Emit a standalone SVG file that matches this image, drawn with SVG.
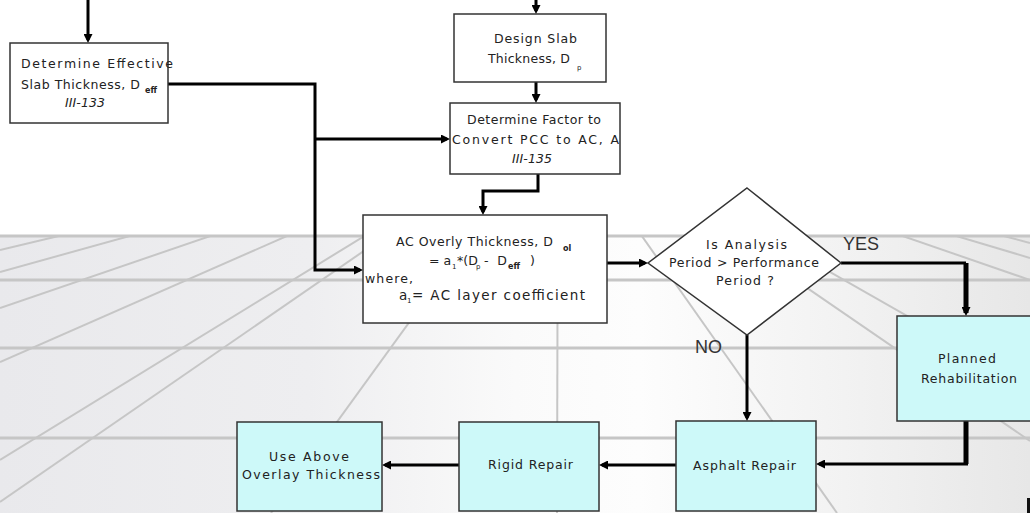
<svg xmlns="http://www.w3.org/2000/svg" width="1030" height="513" viewBox="0 0 1030 513">
  <style>
    .box { stroke: #333; stroke-width: 1.5; }
    .plain { fill: #ffffff; }
    .cyan { fill: #cdf9f9; }
    .t { font-family: "DejaVu Sans", "Liberation Sans", Arial, sans-serif; font-size: 12.5px; fill: #222; }
    .big { font-size: 13.5px; }
    .sub { font-size: 8px; font-weight: bold; }
    .tiny { font-size: 7px; }
    .it { font-style: italic; }
    .lbl { font-family: "Liberation Sans", Arial, sans-serif; font-size: 18px; fill: #333; }
    .con { fill: none; stroke: #000; stroke-width: 3; }
    .thick { stroke-width: 5; }
    .grid { stroke: #c6c6c6; stroke-width: 2; fill: none; }
    .hline { stroke: #c6c6c6; stroke-width: 3; }
  </style>
  <defs>
    <linearGradient id="floor" x1="0" y1="0" x2="1" y2="0">
      <stop offset="0" stop-color="#e9e9ec"/>
      <stop offset="0.3" stop-color="#eeeef0"/>
      <stop offset="0.5" stop-color="#fafafa"/>
      <stop offset="0.62" stop-color="#fdfdfd"/>
      <stop offset="0.82" stop-color="#f2f2f2"/>
      <stop offset="1" stop-color="#e7e7e7"/>
    </linearGradient>
    <clipPath id="floorClip">
      <rect x="0" y="236" width="1030" height="277"/>
    </clipPath>
    <marker id="arrow" markerUnits="userSpaceOnUse" markerWidth="9" markerHeight="9" refX="6" refY="4.5" orient="auto">
      <path d="M0,0 L9,4.5 L0,9 z" fill="#000"/>
    </marker>
  </defs>

  <!-- background: white wall and perspective floor grid -->
  <rect x="0" y="0" width="1030" height="513" fill="#ffffff"/>
  <g id="floor-grid">
    <rect x="0" y="236" width="1030" height="277" fill="url(#floor)"/>
    <g clip-path="url(#floorClip)" class="grid">
      <path d="M558,117 L0,250"/>
      <path d="M558,117 L0,272"/>
      <path d="M558,117 L0,308"/>
      <path d="M558,117 L0,362"/>
      <path d="M558,117 L0,460"/>
      <path d="M558,117 L0,502"/>
      <path d="M558,117 L271,513"/>
      <path d="M558,117 L557,513"/>
      <path d="M558,117 L837,513"/>
      <path d="M558,117 L1030,441"/>
      <path d="M558,117 L1030,386"/>
      <path d="M558,117 L1030,280"/>
      <path d="M558,117 L1030,258"/>
      <path d="M558,117 L1030,243"/>
    </g>
    <line class="hline" x1="0" y1="236" x2="1030" y2="236"/>
    <line class="hline" x1="0" y1="280" x2="1030" y2="280"/>
    <line class="hline" x1="0" y1="348" x2="1030" y2="348"/>
    <line class="hline" x1="0" y1="438" x2="1030" y2="438"/>
  </g>

  <!-- connectors -->
  <g id="connectors">
    <path class="con" d="M88,0 V40" marker-end="url(#arrow)"/>
    <path class="con" d="M536,0 V11" marker-end="url(#arrow)"/>
    <path class="con" d="M168,84 H315 V270 H360" marker-end="url(#arrow)"/>
    <path class="con" d="M315,139 H447" marker-end="url(#arrow)"/>
    <path class="con" d="M536,82 V100" marker-end="url(#arrow)"/>
    <path class="con" d="M538,174 V191 H483 V212" marker-end="url(#arrow)"/>
    <path class="con" d="M607,263 H645" marker-end="url(#arrow)"/>
    <path class="con" d="M841,263 H966"/>
    <path class="con thick" d="M966,263 V313" marker-end="url(#arrow)"/>
    <path class="con" d="M747,335 V418" marker-end="url(#arrow)"/>
    <path class="con thick" d="M966,421 V464"/>
    <path class="con" d="M968,464 H819" marker-end="url(#arrow)"/>
    <path class="con" d="M676,465 H602" marker-end="url(#arrow)"/>
    <path class="con" d="M459,465 H385" marker-end="url(#arrow)"/>
  </g>

  <!-- Determine Effective Slab Thickness -->
  <g id="node-effective">
    <rect class="box plain" x="10" y="43" width="158" height="80"/>
    <text class="t" x="21" y="68" textLength="152" lengthAdjust="spacing">Determine Effective</text>
    <text class="t" x="21" y="89" textLength="119" lengthAdjust="spacing">Slab Thickness, D</text>
    <text class="t sub" x="145" y="93">eff</text>
    <text class="t it" x="65" y="107" textLength="40" lengthAdjust="spacing">III-133</text>
  </g>

  <!-- Design Slab Thickness -->
  <g id="node-design">
    <rect class="box plain" x="454" y="14" width="152" height="68"/>
    <text class="t" x="494" y="43" textLength="83" lengthAdjust="spacing">Design Slab</text>
    <text class="t" x="488" y="63" textLength="82" lengthAdjust="spacing">Thickness, D</text>
    <text class="t tiny" x="577" y="70">p</text>
  </g>

  <!-- Determine Factor -->
  <g id="node-factor">
    <rect class="box plain" x="450" y="103" width="170" height="71"/>
    <text class="t" x="467" y="124" textLength="134" lengthAdjust="spacing">Determine Factor to</text>
    <text class="t" x="452" y="144" textLength="167" lengthAdjust="spacing">Convert PCC to AC, A</text>
    <text class="t it" x="512" y="163" textLength="40" lengthAdjust="spacing">III-135</text>
  </g>

  <!-- AC Overlay Thickness -->
  <g id="node-overlay">
    <rect class="box plain" x="363" y="215" width="244" height="108"/>
    <text class="t" x="396" y="246" textLength="157" lengthAdjust="spacing">AC Overly Thickness, D</text>
    <text class="t sub" x="563" y="251" font-weight="normal">ol</text>
    <text class="t" x="429" y="265">= a</text>
    <text class="t tiny" x="452" y="269">1</text>
    <text class="t" x="457" y="265">*(D</text>
    <text class="t tiny" x="476" y="269">p</text>
    <text class="t" x="484" y="265" textLength="23" lengthAdjust="spacing">- D</text>
    <text class="t sub" x="508" y="269">eff</text>
    <text class="t" x="530" y="265">)</text>
    <text class="t" x="365" y="283" textLength="48" lengthAdjust="spacing">where,</text>
    <text class="t big" x="399" y="300">a</text>
    <text class="t tiny" x="407" y="303">1</text>
    <text class="t big" x="412" y="300" textLength="173" lengthAdjust="spacing">= AC layer coefficient</text>
  </g>

  <!-- Decision -->
  <g id="node-decision">
    <polygon class="box plain" points="747,188 841,263 747,335 648,263"/>
    <text class="t" x="706" y="249" textLength="81" lengthAdjust="spacing">Is Analysis</text>
    <text class="t" x="669" y="267" textLength="150" lengthAdjust="spacing">Period &gt; Performance</text>
    <text class="t" x="716" y="285" textLength="58" lengthAdjust="spacing">Period ?</text>
  </g>
  <text id="label-yes" class="lbl" x="843" y="250">YES</text>
  <text id="label-no" class="lbl" x="695" y="353">NO</text>

  <!-- Planned Rehabilitation -->
  <g id="node-planned">
    <rect class="box cyan" x="897" y="316" width="140" height="105"/>
    <text class="t" x="938" y="363" textLength="58" lengthAdjust="spacing">Planned</text>
    <text class="t" x="921" y="383" textLength="96" lengthAdjust="spacing">Rehabilitation</text>
  </g>

  <!-- Asphalt Repair -->
  <g id="node-asphalt">
    <rect class="box cyan" x="676" y="421" width="140" height="90"/>
    <text class="t" x="693" y="470" textLength="103" lengthAdjust="spacing">Asphalt Repair</text>
  </g>

  <!-- Rigid Repair -->
  <g id="node-rigid">
    <rect class="box cyan" x="459" y="422" width="140" height="89"/>
    <text class="t" x="488" y="469" textLength="85" lengthAdjust="spacing">Rigid Repair</text>
  </g>

  <!-- Use Above Overlay Thickness -->
  <g id="node-use">
    <rect class="box cyan" x="237" y="422" width="145" height="89"/>
    <text class="t" x="269" y="461" textLength="80" lengthAdjust="spacing">Use Above</text>
    <text class="t" x="242" y="479" textLength="138" lengthAdjust="spacing">Overlay Thickness</text>
  </g>

  <rect x="1027" y="498" width="3" height="15" fill="#111"/>
</svg>
